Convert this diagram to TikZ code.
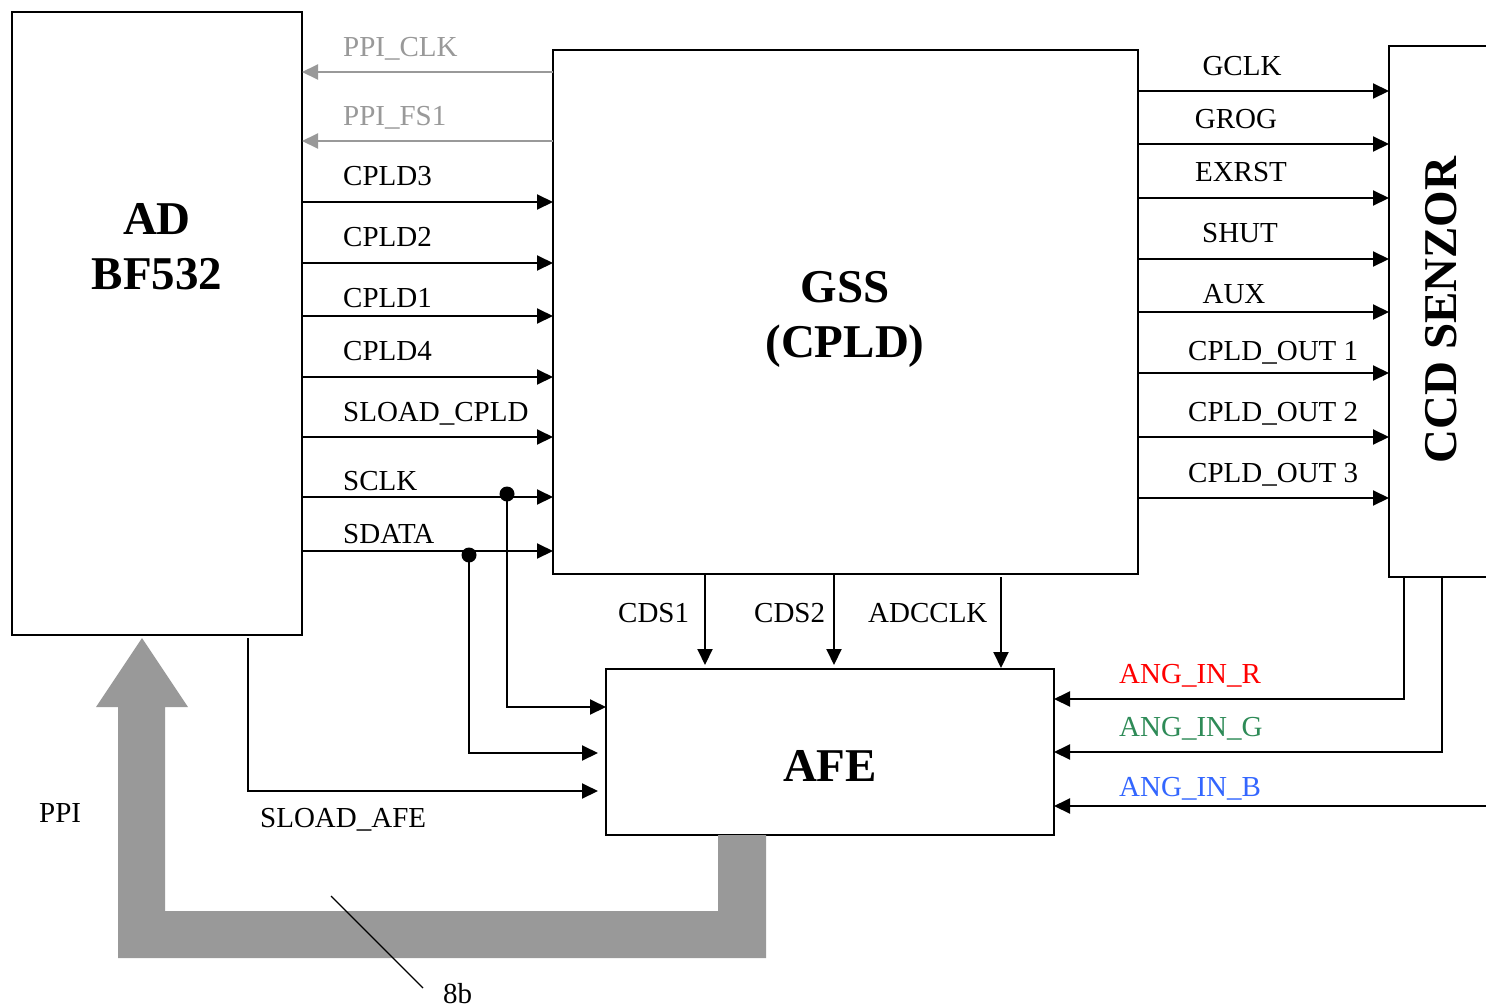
\documentclass[tikz,border=0pt]{standalone}
\usepackage{fontspec}
\setmainfont{Liberation Serif}
\usetikzlibrary{arrows.meta}
\definecolor{lgray}{HTML}{999999}
\definecolor{angr}{HTML}{FF0000}
\definecolor{angg}{HTML}{2E8B57}
\definecolor{angb}{HTML}{3366FF}
\begin{document}
\begin{tikzpicture}[x=1pt,y=-1pt,
  box/.style={draw,line width=2pt,inner sep=0pt,outer sep=0pt,anchor=north west},
  lbl/.style={font=\fontsize{29}{34}\selectfont,inner sep=0pt,anchor=base west},
  clbl/.style={lbl,anchor=base},
  big/.style={font=\fontsize{47}{56}\selectfont\bfseries,inner sep=0pt,anchor=base},
  sig/.style={line width=2pt,-{Triangle[length=16pt,width=15pt]}},
  gsig/.style={sig,draw=lgray,fill=lgray},
  wire/.style={line width=2pt},
  dot/.style={circle,fill=black,inner sep=0pt,minimum size=15pt}
]
\clip (0,0) rectangle (1486,1007);
\fill[white] (0,0) rectangle (1486,1007);

% boxes
\node[box,minimum width=290pt,minimum height=623pt] (ad) at (12,12) {};
\node[box,minimum width=585pt,minimum height=524pt] (gss) at (553,50) {};
\node[box,minimum width=130pt,minimum height=531pt] (ccd) at (1389,46) {};
\node[box,minimum width=448pt,minimum height=166pt] (afe) at (606,669) {};

% box titles
\node[big] (adt1) at (157,234) {AD};
\node[big] (adt2) at (157,289) {BF532};
\node[big] (gsst1) at (845,302) {GSS};
\node[big] (gsst2) at (845,357) {(CPLD)};
\node[big] (afet) at (830,781) {AFE};
\node[big,rotate=90] (ccdt) at (1456,310) {CCD SENZOR};

% PPI bus
\fill[lgray] (118,958) -- (766,958) -- (766,835) -- (718,835) -- (718,911)
  -- (165,911) -- (165,707) -- (188,707) -- (142,638) -- (96,707) -- (118,707) -- cycle;
\node[lbl] (ppil) at (39,822) {PPI};
\coordinate (tickA) at (331,896);
\coordinate (tickB) at (423,988);
\draw[line width=1.3pt] (tickA) -- (tickB);
\node[lbl] (bitl) at (443,1003) {8b};

% GSS -> AD (gray)
\draw[gsig] (gss.west |- 0,72) -- (ad.east |- 0,72);
\draw[gsig] (gss.west |- 0,141) -- (ad.east |- 0,141);
\node[lbl,text=lgray] (l1) at (343,56) {PPI\_CLK};
\node[lbl,text=lgray] (l2) at (343,125) {PPI\_FS1};

% AD -> GSS
\draw[sig] (ad.east |- 0,202) -- (gss.west |- 0,202);
\draw[sig] (ad.east |- 0,263) -- (gss.west |- 0,263);
\draw[sig] (ad.east |- 0,316) -- (gss.west |- 0,316);
\draw[sig] (ad.east |- 0,377) -- (gss.west |- 0,377);
\draw[sig] (ad.east |- 0,437) -- (gss.west |- 0,437);
\draw[sig] (ad.east |- 0,497) -- (gss.west |- 0,497);
\draw[sig] (ad.east |- 0,551) -- (gss.west |- 0,551);
\node[lbl] (l3) at (343,185) {CPLD3};
\node[lbl] (l4) at (343,246) {CPLD2};
\node[lbl] (l5) at (343,307) {CPLD1};
\node[lbl] (l6) at (343,360) {CPLD4};
\node[lbl] (l7) at (343,421) {SLOAD\_CPLD};
\node[lbl] (l8) at (343,490) {SCLK};
\node[lbl] (l9) at (343,543) {SDATA};

% GSS -> CCD
\draw[sig] (gss.east |- 0,91) -- (ccd.west |- 0,91);
\draw[sig] (gss.east |- 0,144) -- (ccd.west |- 0,144);
\draw[sig] (gss.east |- 0,198) -- (ccd.west |- 0,198);
\draw[sig] (gss.east |- 0,259) -- (ccd.west |- 0,259);
\draw[sig] (gss.east |- 0,312) -- (ccd.west |- 0,312);
\draw[sig] (gss.east |- 0,373) -- (ccd.west |- 0,373);
\draw[sig] (gss.east |- 0,437) -- (ccd.west |- 0,437);
\draw[sig] (gss.east |- 0,498) -- (ccd.west |- 0,498);
\node[clbl] (r1) at (1242,75) {GCLK};
\node[clbl] (r2) at (1236,128) {GROG};
\node[clbl] (r3) at (1241,181) {EXRST};
\node[clbl] (r4) at (1240,242) {SHUT};
\node[clbl] (r5) at (1234,303) {AUX};
\node[lbl] (r6) at (1188,360) {CPLD\_OUT 1};
\node[lbl] (r7) at (1188,421) {CPLD\_OUT 2};
\node[lbl] (r8) at (1188,482) {CPLD\_OUT 3};

% GSS -> AFE
\draw[sig] (gss.south -| 705,0) -- ([yshift=4pt]afe.north -| 705,0);
\draw[sig] (gss.south -| 834,0) -- ([yshift=4pt]afe.north -| 834,0);
\draw[sig] ([yshift=-3pt]gss.south -| 1001,0) -- ([yshift=1pt]afe.north -| 1001,0);
\node[lbl] (b1) at (618,622) {CDS1};
\node[lbl] (b2) at (754,622) {CDS2};
\node[lbl] (b3) at (868,622) {ADCCLK};

% serial to AFE
\node[dot] (sclkdot) at (507,494) {};
\node[dot] (sdatadot) at (469,555) {};
\draw[sig] (sclkdot.center) -- (507,707) -- (afe.west |- 0,707);
\draw[sig] (sdatadot.center) -- (469,753) -- ([xshift=-8pt]afe.west |- 0,753);
\draw[sig] ([yshift=-3pt]ad.south -| 248,0) -- (248,791) -- ([xshift=-8pt]afe.west |- 0,791);
\node[lbl] (sl) at (260,827) {SLOAD\_AFE};

% CCD -> AFE
\coordinate (bsrc) at (1500,806);
\draw[sig] (ccd.south -| 1404,0) -- (1404,699) -- (afe.east |- 0,699);
\draw[sig] (ccd.south -| 1442,0) -- (1442,752) -- (afe.east |- 0,752);
\draw[sig] (bsrc) -- (afe.east |- 0,806);
\node[lbl,text=angr] (a1) at (1119,683) {ANG\_IN\_R};
\node[lbl,text=angg] (a2) at (1119,736) {ANG\_IN\_G};
\node[lbl,text=angb] (a3) at (1119,796) {ANG\_IN\_B};
\end{tikzpicture}
\end{document}
